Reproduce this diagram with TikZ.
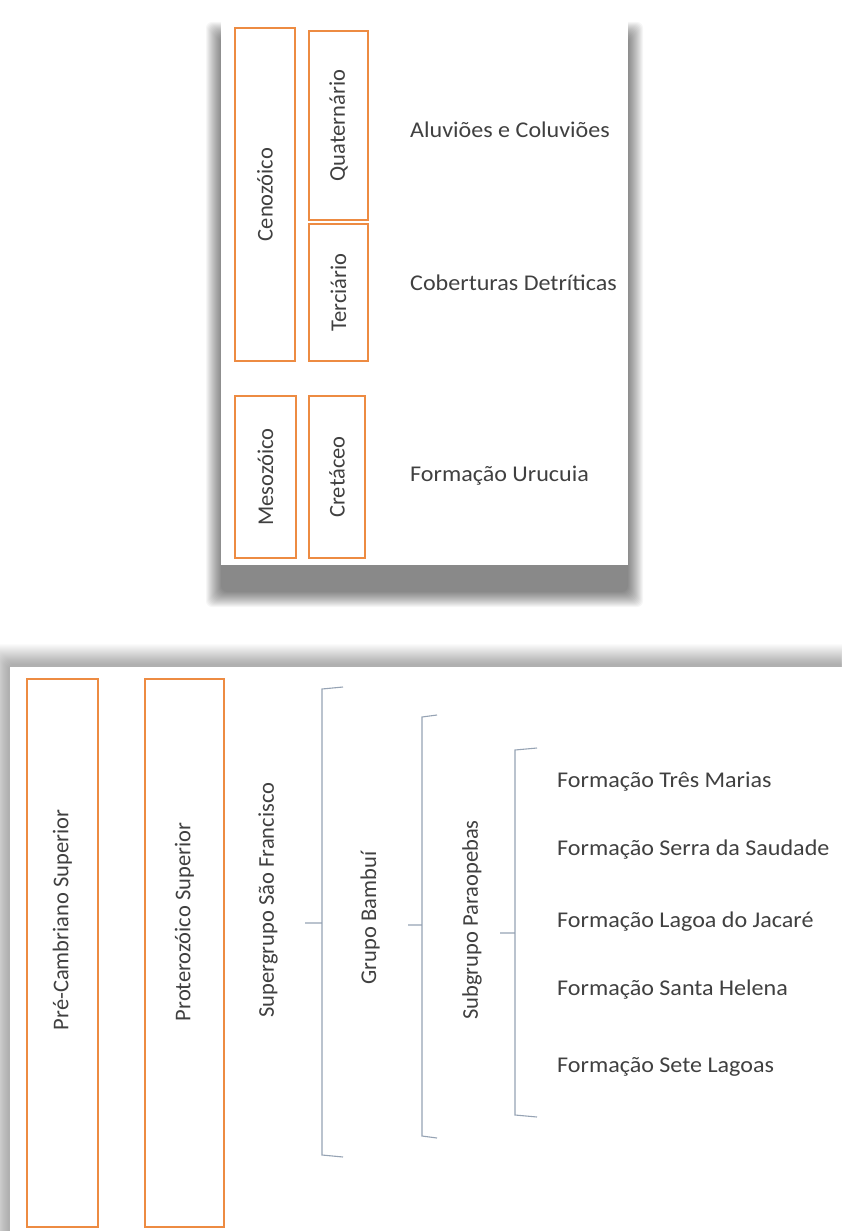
\documentclass[tikz,border=0pt]{standalone}
\usepackage{fontspec}
\setmainfont{Carlito}
\usepackage{xcolor}
\definecolor{eraorange}{RGB}{237,139,66}
\definecolor{bracegray}{RGB}{150,163,180}
\definecolor{txtgray}{RGB}{64,64,64}

\begin{document}
\begin{tikzpicture}[x=1pt,y=-1pt,font=\fontsize{22.5}{26}\selectfont,text=txtgray,
  erabox/.style={draw=eraorange,line width=2.2pt,fill=white,inner sep=0pt,rotate=90},
  vlabel/.style={rotate=90,inner sep=1pt},
  unit/.style={anchor=west,inner sep=0pt,xscale=1.07},
  brace/.style={draw=bracegray,line width=1.1pt},
  shade layer/.style={fill=black,opacity=#1,rounded corners=6pt}]
\useasboundingbox (0,0) rectangle (841,1231);
\fill[white] (0,0) rectangle (841,1231);
% soft shadows and cards
\foreach \k in {0,...,15}
  \path[shade layer=0.035] (206+\k,22+\k) rectangle (643-\k,607-\k);
\fill[white] (221,10) rectangle (628,565);
\foreach \k in {0,...,20}
  \path[shade layer=0.014] (-12+\k,644+\k) rectangle (900,1300);
\fill[white] (10,667) rectangle (870,1260);
% upper chart
\node[erabox,minimum width=333pt,minimum height=60pt] (ceno) at (265,194.5) {Cenozóico};
\node[erabox,minimum width=189pt,minimum height=59pt] (quat) at (338.5,125.5) {Quaternário};
\node[erabox,minimum width=137pt,minimum height=59pt] (terc) at (338.5,292.5) {Terciário};
\node[erabox,minimum width=162pt,minimum height=61pt] (meso) at (265.5,477) {Mesozóico};
\node[erabox,minimum width=162pt,minimum height=56pt] (cret) at (337,477) {Cretáceo};
\node[unit] (aluv) at (410,130) {Aluviões e Coluviões};
\node[unit] (cobe) at (410,283) {Coberturas Detríticas};
\node[unit] (urucuia) at (410,476) {Formação Urucuia};
% lower chart
\node[erabox,minimum width=548pt,minimum height=71pt] (precamb) at (62.5,953) {};
\node[erabox,minimum width=548pt,minimum height=79pt] (protero) at (184.5,953) {};
\node[vlabel] (precambtxt) at (62.5,920) {Pré-Cambriano Superior};
\node[vlabel] (proterotxt) at (184.5,922) {Proterozóico Superior};
\node[vlabel] (supergrupo) at (268,900) {Supergrupo São Francisco};
\node[vlabel] (bambui) at (370,918) {Grupo Bambuí};
\node[vlabel] (paraopebas) at (472,920) {Subgrupo Paraopebas};
\foreach \f/\y [count=\i] in {Formação Três Marias/782,Formação Serra da Saudade/850,
  Formação Lagoa do Jacaré/922,Formação Santa Helena/990,Formação Sete Lagoas/1067}
  \node[unit] (form\i) at (557,\y) {\f};
% braces
\coordinate (b1t) at (343,687); \coordinate (b1b) at (343,1157); \coordinate (b1m) at (305,923);
\coordinate (b2t) at (437,715); \coordinate (b2b) at (437,1138); \coordinate (b2m) at (408,925);
\coordinate (b3t) at (537,748); \coordinate (b3b) at (537,1117); \coordinate (b3m) at (500,933);
\draw[brace] (b1t) -- (322,689) -- (322,1155) -- (b1b) (b1m) -- (322,923);
\draw[brace] (b2t) -- (422,717) -- (422,1136) -- (b2b) (b2m) -- (422,925);
\draw[brace] (b3t) -- (515,750) -- (515,1115) -- (b3b) (b3m) -- (515,933);
\end{tikzpicture}
\end{document}
